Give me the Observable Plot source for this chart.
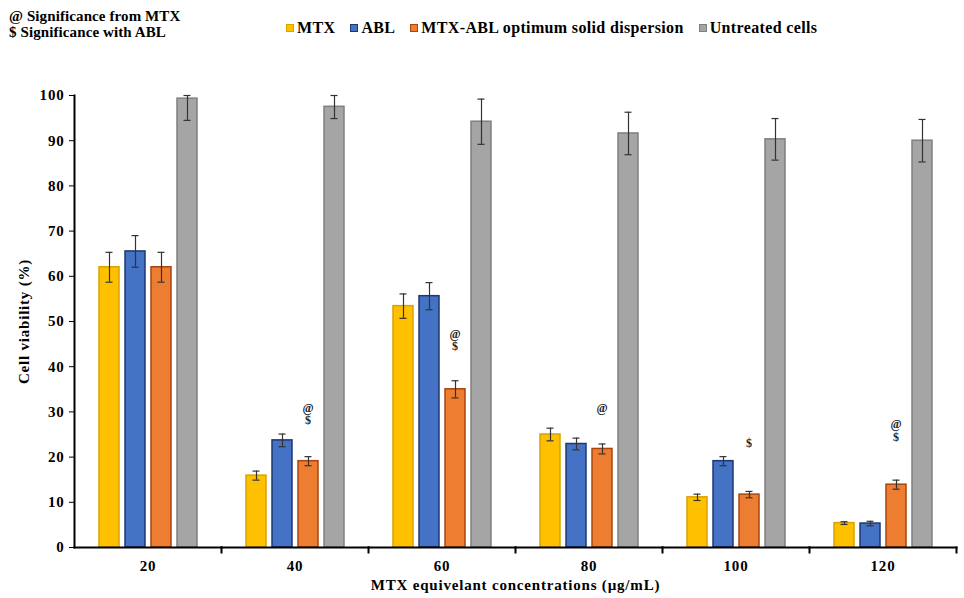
<!DOCTYPE html>
<html><head><meta charset="utf-8">
<script src="https://cdn.jsdelivr.net/npm/d3@7"></script>
<script src="https://cdn.jsdelivr.net/npm/@observablehq/plot@0.6"></script>
<style>
body{margin:0;background:#fff;font-family:"Liberation Serif",serif;font-weight:bold;color:#000;}
#head{position:relative;height:60px;width:964px;}
#notes{position:absolute;left:9px;top:8px;font-size:15px;letter-spacing:0.1px;line-height:16px;}
#legend{position:absolute;left:286px;top:19px;display:flex;align-items:center;font-size:16px;letter-spacing:0.35px;}
.item{display:flex;align-items:center;margin-right:15px;}
.sw{width:6px;height:6px;border:1px solid;margin-right:3px;}
svg text{letter-spacing:0.8px;}
</style></head><body>
<div id="head"><div id="notes"></div><div id="legend"></div></div>
<div id="chart"></div>
<script>
const concentrations = ["20", "40", "60", "80", "100", "120"];
const series = ["MTX", "ABL", "MTX-ABL optimum solid dispersion", "Untreated cells"];
const mtx = [62, 15.9, 53.4, 25, 11.1, 5.4];
const mtxErr = [3.3, 1.0, 2.7, 1.4, 0.7, 0.3];
const abl = [65.5, 23.7, 55.6, 22.9, 19.1, 5.3];
const ablErr = [3.5, 1.4, 3.0, 1.3, 1.0, 0.5];
const opt = [62, 19.1, 35, 21.8, 11.7, 13.9];
const optErr = [3.3, 1.0, 1.9, 1.1, 0.7, 1.0];
const untreated = [99.3, 97.5, 94.2, 91.6, 90.3, 90.0];
const untreatedErr = [4.8, 2.6, 5.0, 4.7, 4.6, 4.7];
const yTicks = [0, 10, 20, 30, 40, 50, 60, 70, 80, 90, 100];
const noteLines = ["@ Significance from MTX", "$ Significance with ABL"];
const annConc = ["40", "40", "60", "60", "80", "100", "120", "120"];
const annSymbol = ["@", "$", "@", "$", "@", "$", "@", "$"];
const annY = [30.8, 28.1, 47.3, 44.5, 30.8, 23.1, 27.2, 24.4];

const fills = ["#FFC000", "#4472C4", "#ED7D31", "#A5A5A5"];
const strokes = ["#D9A300", "#1F3770", "#A84510", "#7F7F7F"];

const valueSets = [mtx, abl, opt, untreated];
const errSets = [mtxErr, ablErr, optErr, untreatedErr];
const rows = [];
concentrations.forEach((c, i) => series.forEach((s, j) => rows.push({conc: c, series: s, value: valueSets[j][i], err: errSets[j][i]})));
const ann = annConc.map((c, i) => ({conc: c, symbol: annSymbol[i], y: annY[i]}));

// header
document.getElementById("notes").innerHTML = noteLines.map(t => `<div>${t}</div>`).join("");
document.getElementById("legend").innerHTML = series.map((s, j) =>
  `<div class="item"><div class="sw" style="background:${fills[j]};border-color:${strokes[j]}"></div><span>${s}</span></div>`).join("");

const plot = Plot.plot({
  width: 964, height: 538,
  marginTop: 35, marginBottom: 51, marginLeft: 72, marginRight: 6,
  style: {fontFamily: "Liberation Serif, serif", fontWeight: "bold", fontSize: "15px", color: "#000", background: "#fff"},
  fx: {domain: concentrations, padding: 0},
  x: {domain: series, paddingInner: 0.25, paddingOuter: 0.9, axis: null},
  y: {domain: [0, 100]},
  color: {domain: series, range: fills},
  marks: [
    Plot.barY(rows, {fx: "conc", x: "series", y: "value", fill: "series", stroke: d => strokes[series.indexOf(d.series)], strokeWidth: 1.5}),
    Plot.ruleX(rows, {fx: "conc", x: "series", y1: d => d.value - d.err, y2: d => Math.min(100, d.value + d.err), stroke: "#333", strokeWidth: 1.2}),
    Plot.tickY(rows, {fx: "conc", x: "series", y: d => d.value - d.err, stroke: "#333", strokeWidth: 1.2, inset: 6.5}),
    Plot.tickY(rows, {fx: "conc", x: "series", y: d => Math.min(100, d.value + d.err), stroke: "#333", strokeWidth: 1.2, inset: 6.5}),
    Plot.text(ann, {fx: "conc", x: () => series[2], y: "y", text: "symbol", fontSize: 12, fill: "#222"}),
    Plot.frame({anchor: "bottom", stroke: "#000", strokeWidth: 2}),
    Plot.frame({anchor: "right", stroke: "#000", strokeWidth: 2, insetTop: 452, insetBottom: -5}),
    Plot.frame({anchor: "left", fx: "20", stroke: "#000", strokeWidth: 2}),
    Plot.axisY({ticks: yTicks, tickSize: 5, tickPadding: 5, label: "Cell viability (%)", labelAnchor: "center", labelOffset: 56, labelArrow: "none", fontSize: 15}),
    Plot.axisFx({anchor: "bottom", tickSize: 0, tickPadding: 13, label: "MTX equivelant concentrations (µg/mL)", labelAnchor: "center", labelOffset: 42, labelArrow: "none", fontSize: 15})
  ]
});
document.getElementById("chart").appendChild(plot);
</script>
</body></html>
